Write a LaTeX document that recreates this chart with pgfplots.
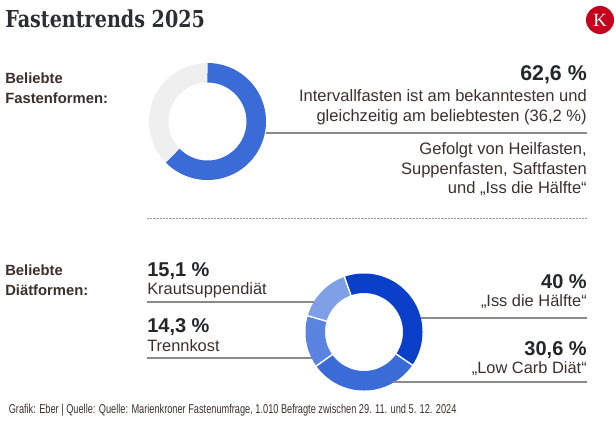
\documentclass[border=0pt]{standalone}
\usepackage{fontspec}
\usepackage{pgfplots}
\pgfplotsset{compat=1.18}
\setmainfont{Liberation Sans}
\newfontfamily\titlefont{DejaVu Serif}[FakeStretch=0.82]
\newfontfamily\condfont{Liberation Sans}[FakeStretch=0.72]
\newfontfamily\logofont{Liberation Serif}
\definecolor{txt}{HTML}{3B302A}
\definecolor{num}{HTML}{24272A}
\definecolor{ttl}{HTML}{2B2F33}
\definecolor{c1}{HTML}{0A3FCA}
\definecolor{c2}{HTML}{3A6BD7}
\definecolor{c3}{HTML}{5A84DF}
\definecolor{c4}{HTML}{7F9FE6}
\definecolor{ringgray}{HTML}{EFEFEF}
\definecolor{lin}{HTML}{8A8A8A}
\definecolor{kred}{HTML}{C4001C}
\begin{document}
\begin{tikzpicture}
\begin{axis}[x=0.75pt, y=0.75pt, xmin=0, xmax=616, ymin=0, ymax=435, y dir=reverse,
  axis lines=none, scale only axis, clip=false, ticks=none]
\coordinate (SW) at (axis cs:0,435);
\coordinate (NE) at (axis cs:616,0);
% ---- donut 1: Fastenformen (62,6 %)
\addplot[ringgray, line width=14.625pt, domain=225.36:360, samples=80] ({207.5+48.75*sin(x)},{121.5-48.75*cos(x)});
\addplot[c2, line width=14.625pt, domain=0:225.36, samples=120] ({207.5+48.75*sin(x)},{121.5-48.75*cos(x)});
% ---- donut 2: Diaetformen
\addplot[c1, line width=14.625pt, domain=-19.6:124.4, samples=90] ({364+48.75*sin(x)},{332-48.75*cos(x)});
\addplot[c2, line width=14.625pt, domain=124.4:234.56, samples=80] ({364+48.75*sin(x)},{332-48.75*cos(x)});
\addplot[c3, line width=14.625pt, domain=234.56:286.04, samples=50] ({364+48.75*sin(x)},{332-48.75*cos(x)});
\addplot[c4, line width=14.625pt, domain=286.04:340.4, samples=50] ({364+48.75*sin(x)},{332-48.75*cos(x)});
\foreach \a in {-19.6,124.4,234.56,286.04}{
  \addplot[white, line width=1.1pt, domain=37:60, samples=2] ({364+x*sin(\a)},{332-x*cos(\a)});
}
% ---- lines
\addplot[lin, line width=0.8pt] coordinates {(266,133) (587,133)};
\addplot[black!40, line width=0.75pt, dash pattern=on 1.6pt off 0.8pt] coordinates {(147,218) (587,218)};
\addplot[lin, line width=0.8pt] coordinates {(147,302) (313.5,302)};
\addplot[lin, line width=0.8pt] coordinates {(147,358) (311.5,358)};
\addplot[lin, line width=0.8pt] coordinates {(420.5,318) (587,318)};
\addplot[lin, line width=0.8pt] coordinates {(393,382) (587,382)};
% ---- logo
\node[circle, fill=kred, inner sep=0pt, minimum size=21pt, text=white, font=\logofont\fontsize{14}{14}\selectfont] at (axis cs:600,20) {K};
% ---- title
\node[anchor=base west, inner sep=0pt, text=ttl, font=\titlefont\bfseries\fontsize{17.5}{20}\selectfont] at (axis cs:5,28) {Fastentrends 2025};
% ---- section labels
\node[anchor=base west, inner sep=0pt, text=txt, font=\bfseries\fontsize{11.1}{15}\selectfont] at (axis cs:5,83) {Beliebte};
\node[anchor=base west, inner sep=0pt, text=txt, font=\bfseries\fontsize{11.1}{15}\selectfont] at (axis cs:5,103) {Fastenformen:};
\node[anchor=base west, inner sep=0pt, text=txt, font=\bfseries\fontsize{11.1}{15}\selectfont] at (axis cs:5,275) {Beliebte};
\node[anchor=base west, inner sep=0pt, text=txt, font=\bfseries\fontsize{11.1}{15}\selectfont] at (axis cs:5,295) {Diätformen:};
% ---- upper texts
\node[anchor=base east, inner sep=0pt, text=num, font=\bfseries\fontsize{16}{18}\selectfont] at (axis cs:587,80) {62,6 \%};
\node[anchor=base east, inner sep=0pt, text=txt, font=\fontsize{12.4}{15}\selectfont] at (axis cs:587,101) {Intervallfasten ist am bekanntesten und};
\node[anchor=base east, inner sep=0pt, text=txt, font=\fontsize{12.4}{15}\selectfont] at (axis cs:587,121) {gleichzeitig am beliebtesten (36,2 \%)};
\node[anchor=base east, inner sep=0pt, text=txt, font=\fontsize{12.4}{15}\selectfont] at (axis cs:587,154) {Gefolgt von Heilfasten,};
\node[anchor=base east, inner sep=0pt, text=txt, font=\fontsize{12.4}{15}\selectfont] at (axis cs:587,174) {Suppenfasten, Saftfasten};
\node[anchor=base east, inner sep=0pt, text=txt, font=\fontsize{12.4}{15}\selectfont] at (axis cs:587,193) {und „Iss die Hälfte“};
% ---- lower left texts
\node[anchor=base west, inner sep=0pt, text=num, font=\bfseries\fontsize{15}{18}\selectfont] at (axis cs:147,276) {15,1 \%};
\node[anchor=base west, inner sep=0pt, text=txt, font=\fontsize{12.3}{15}\selectfont] at (axis cs:147,294) {Krautsuppendiät};
\node[anchor=base west, inner sep=0pt, text=num, font=\bfseries\fontsize{15}{18}\selectfont] at (axis cs:147,332) {14,3 \%};
\node[anchor=base west, inner sep=0pt, text=txt, font=\fontsize{12.3}{15}\selectfont] at (axis cs:147,351) {Trennkost};
% ---- lower right texts
\node[anchor=base east, inner sep=0pt, text=num, font=\bfseries\fontsize{15}{18}\selectfont] at (axis cs:587,288) {40 \%};
\node[anchor=base east, inner sep=0pt, text=txt, font=\fontsize{12.3}{15}\selectfont] at (axis cs:587,306.5) {„Iss die Hälfte“};
\node[anchor=base east, inner sep=0pt, text=num, font=\bfseries\fontsize{15}{18}\selectfont] at (axis cs:587,355) {30,6 \%};
\node[anchor=base east, inner sep=0pt, text=txt, font=\fontsize{12.3}{15}\selectfont] at (axis cs:587,373) {„Low Carb Diät“};
% ---- footer
\node[anchor=base west, inner sep=0pt, text=txt, font=\condfont\fontsize{9.6}{11}\selectfont] at (axis cs:8.5,413) {Grafik: Eber | Quelle: Quelle: Marienkroner Fastenumfrage, 1.010 Befragte zwischen 29. 11. und 5. 12. 2024};
\end{axis}
\pgfresetboundingbox
\path (SW) rectangle (NE);
\end{tikzpicture}
\end{document}
